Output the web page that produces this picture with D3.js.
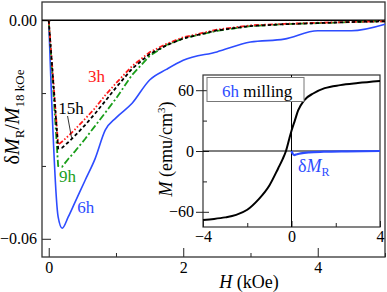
<!DOCTYPE html>
<html>
<head>
<meta charset="utf-8">
<script src="https://cdn.jsdelivr.net/npm/d3@7"></script>
<style>
  body { margin: 0; background: #fff; font-family: "Liberation Serif"; }
</style>
</head>
<body>
<script>
// main panel: remanence difference vs field, H in kOe
var fieldH = [0, 0.14, 0.2, 0.29, 0.39, 0.54, 0.69, 0.84, 1.0, 1.24, 1.5, 1.75, 2.0, 2.5, 3.0, 3.5, 4.0, 4.5, 5.0];
var dM3h  = [0, -0.0342, -0.0333, -0.0318, -0.0300, -0.0271, -0.0241, -0.0206, -0.0173, -0.0126, -0.0088, -0.0065, -0.0047, -0.0026, -0.0014, -0.0010, -0.0007, -0.0005, -0.0003];
var dM15h = [0, -0.0352, -0.0350, -0.0335, -0.0317, -0.0288, -0.0256, -0.0222, -0.0185, -0.0133, -0.0093, -0.0069, -0.0050, -0.0028, -0.0016, -0.0011, -0.0008, -0.0005, -0.0003];
var dM9h  = [0, -0.0400, -0.0402, -0.0381, -0.0360, -0.0326, -0.0290, -0.0254, -0.0215, -0.0150, -0.0098, -0.0068, -0.0050, -0.0029, -0.0016, -0.0011, -0.0008, -0.0005, -0.0003];
var dM6h  = [0, -0.0540, -0.0571, -0.0540, -0.0500, -0.0440, -0.0380, -0.0302, -0.0268, -0.0228, -0.0164, -0.0135, -0.0110, -0.0087, -0.0060, -0.0052, -0.0029, -0.0029, -0.0011];

// inset: M(H) branch and dM_R for 6h milling
var insetH = [-4, -3.5, -3, -2.5, -2, -1.5, -1, -0.6, -0.4, -0.25, -0.1, 0, 0.15, 0.3, 0.57, 1.0, 1.5, 2.2, 3, 4];
var insetM = [-68, -67, -65.5, -63, -58, -48, -34, -17, -8, 0, 12, 20, 30, 40, 50, 57, 62, 65, 67, 69];
var insetDH = [0, 0.05, 0.12, 0.25, 0.42, 0.8, 1.46, 2.5, 4];
var insetDM = [0, -2.5, -4, -3.2, -2.3, -1.3, -0.7, -0.3, 0];

var mainXMajor = [0, 2, 4], mainXMinor = [1, 3, 5];
var mainYMajor = [0, -0.06], mainYMinor = [-0.02, -0.04];
var insXMajor = [-4, 0, 4], insXMinor = [-2, 2];
var insYMajor = [-60, 0, 60], insYMinor = [-30, 30];

var W = 387, H = 292;
var svg = d3.select("body").append("svg").attr("width", W).attr("height", H);

var x = d3.scaleLinear().domain([-0.1, 5]).range([42, 385]);
var y = d3.scaleLinear().domain([0.005, -0.065]).range([2, 257]);

// axes (ticks point inward, no domain path; frame drawn separately)
function trim(g) {
  g.attr("font-size", 16);
  g.select(".domain").remove();
  g.selectAll("line").attr("stroke", "#222");
}

svg.append("g").attr("transform", "translate(0,257)")
  .call(d3.axisBottom(x).tickValues(mainXMajor).tickSize(-9).tickPadding(5).tickFormat(d3.format("d"))).call(trim);
svg.append("g").attr("transform", "translate(0,257)")
  .call(d3.axisBottom(x).tickValues(mainXMinor).tickSize(-4).tickFormat("")).call(trim);
svg.append("g").attr("transform", "translate(42,0)")
  .call(d3.axisLeft(y).tickValues(mainYMajor).tickSize(-9).tickPadding(5).tickFormat(d3.format(".2f"))).call(trim);
svg.append("g").attr("transform", "translate(42,0)")
  .call(d3.axisLeft(y).tickValues(mainYMinor).tickSize(-4).tickFormat("")).call(trim);

svg.append("rect").attr("x", 42).attr("y", 2).attr("width", 343).attr("height", 255)
  .attr("fill", "none").attr("stroke", "#333").attr("stroke-width", 1.3);
svg.append("line").attr("x1", 42).attr("x2", 385).attr("y1", y(0)).attr("y2", y(0))
  .attr("stroke", "#000").attr("stroke-width", 1.5);

// curves
var line = d3.line().x(function(d) { return x(d[0]); }).y(function(d) { return y(d[1]); });
var series = [
  { vals: dM6h,  color: "#2d4cff", dash: null,        curve: d3.curveMonotoneX },
  { vals: dM9h,  color: "#1a9e1a", dash: "7,2.5,2,2.5", curve: d3.curveLinear },
  { vals: dM3h,  color: "#ff1a1a", dash: "5,2,1.5,2,1.5,2", curve: d3.curveLinear },
  { vals: dM15h, color: "#000",    dash: "3.5,2.5",   curve: d3.curveLinear }
];
series.forEach(function(s) {
  svg.append("path")
    .datum(fieldH.map(function(h, i) { return [h, s.vals[i]]; }))
    .attr("fill", "none").attr("stroke", s.color).attr("stroke-width", s.dash ? 1.8 : 1.6)
    .attr("stroke-dasharray", s.dash)
    .attr("d", line.curve(s.curve));
});

// curve labels
var labels = [
  { t: "3h",  h: 0.71, v: -0.0170, c: "#ff1a1a" },
  { t: "15h", h: 0.33, v: -0.0257, c: "#000" },
  { t: "9h",  h: 0.28, v: -0.0444, c: "#1a9e1a" },
  { t: "6h",  h: 0.55, v: -0.0529, c: "#2d4cff" }
];
labels.forEach(function(l) {
  svg.append("text").attr("x", x(l.h)).attr("y", y(l.v)).attr("text-anchor", "middle")
    .attr("font-size", 17).attr("fill", l.c).text(l.t);
});
svg.append("line").attr("x1", x(0.28)).attr("y1", y(-0.0263)).attr("x2", x(0.34)).attr("y2", y(-0.0323))
  .attr("stroke", "#000").attr("stroke-width", 0.8);

// main axis titles
var yt = svg.append("text").attr("transform", "translate(18.5,117) rotate(-90)")
  .attr("text-anchor", "middle").attr("font-size", 20);
yt.append("tspan").text("\u03b4");
yt.append("tspan").attr("font-style", "italic").text("M");
yt.append("tspan").attr("dy", 5).attr("font-size", 13).text("R");
yt.append("tspan").attr("dy", -5).text("/");
yt.append("tspan").attr("font-style", "italic").text("M");
yt.append("tspan").attr("dy", 5).attr("font-size", 13).text("18 kOe");

var xt = svg.append("text").attr("x", 249).attr("y", 288).attr("text-anchor", "middle").attr("font-size", 18);
xt.append("tspan").attr("font-style", "italic").text("H");
xt.append("tspan").text(" (kOe)");

// ---------- inset ----------
var ix = d3.scaleLinear().domain([-4, 4]).range([203, 380]);
var iy = d3.scaleLinear().domain([-75, 75]).range([227, 75]);

svg.append("rect").attr("x", 203).attr("y", 75).attr("width", 177).attr("height", 152)
  .attr("fill", "#fff").attr("stroke", "#333").attr("stroke-width", 1.2);

svg.append("g").attr("transform", "translate(0,227)")
  .call(d3.axisBottom(ix).tickValues(insXMajor).tickSize(-6).tickPadding(4).tickFormat(d3.format("d"))).call(trim);
svg.append("g").attr("transform", "translate(0,227)")
  .call(d3.axisBottom(ix).tickValues(insXMinor).tickSize(-4).tickFormat("")).call(trim);
svg.append("g").attr("transform", "translate(203,0)")
  .call(d3.axisLeft(iy).tickValues(insYMajor).tickSize(7).tickPadding(2).tickFormat(d3.format("d"))).call(trim);
svg.append("g").attr("transform", "translate(203,0)")
  .call(d3.axisLeft(iy).tickValues(insYMajor).tickSize(-6).tickFormat("")).call(trim);
svg.append("g").attr("transform", "translate(203,0)")
  .call(d3.axisLeft(iy).tickValues(insYMinor).tickSize(-4).tickFormat("")).call(trim);

svg.append("line").attr("x1", ix(0)).attr("x2", ix(0)).attr("y1", 75).attr("y2", 227).attr("stroke", "#000").attr("stroke-width", 1);
svg.append("line").attr("x1", 203).attr("x2", 380).attr("y1", iy(0)).attr("y2", iy(0)).attr("stroke", "#000").attr("stroke-width", 1);

var iline = d3.line().x(function(d) { return ix(d[0]); }).y(function(d) { return iy(d[1]); }).curve(d3.curveMonotoneX);
svg.append("path").datum(insetH.map(function(h, i) { return [h, insetM[i]]; }))
  .attr("fill", "none").attr("stroke", "#000").attr("stroke-width", 2).attr("d", iline);
svg.append("path").datum(insetDH.map(function(h, i) { return [h, insetDM[i]]; }))
  .attr("fill", "none").attr("stroke", "#2d4cff").attr("stroke-width", 2.2).attr("d", iline);

var dl = svg.append("text").attr("x", ix(0.29)).attr("y", iy(-20.7)).attr("font-size", 18).attr("fill", "#2d4cff");
dl.append("tspan").text("\u03b4");
dl.append("tspan").attr("font-style", "italic").text("M");
dl.append("tspan").attr("dy", 4).attr("font-size", 12).text("R");

// legend box
svg.append("rect").attr("x", 207).attr("y", 77.5).attr("width", 97).attr("height", 24)
  .attr("fill", "#fff").attr("stroke", "#777").attr("stroke-width", 1);
var lg = svg.append("text").attr("x", 222).attr("y", 96.5).attr("font-size", 17);
lg.append("tspan").attr("fill", "#2d4cff").text("6h");
lg.append("tspan").text(" milling");

var it = svg.append("text").attr("transform", "translate(172,149) rotate(-90)")
  .attr("text-anchor", "middle").attr("font-size", 18);
it.append("tspan").attr("font-style", "italic").text("M");
it.append("tspan").text(" (emu/cm");
it.append("tspan").attr("dy", -7).attr("font-size", 11).text("3");
it.append("tspan").attr("dy", 7).text(")");

// every text in Times-like serif
svg.selectAll("text").attr("font-family", "Liberation Serif");
svg.selectAll("g").attr("font-family", "Liberation Serif");
</script>
</body>
</html>
